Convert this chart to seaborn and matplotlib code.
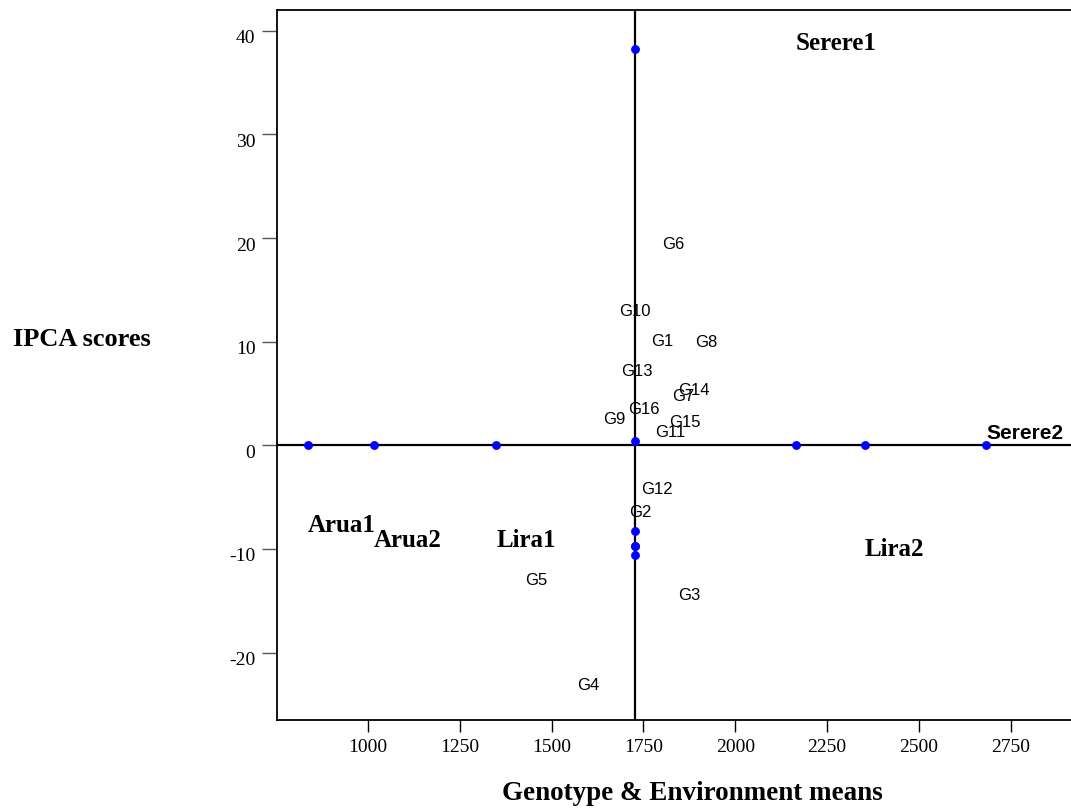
import matplotlib
matplotlib.use("Agg")
import matplotlib.pyplot as plt
import matplotlib.transforms as mtransforms
import seaborn as sns
import pandas as pd

# ---- data ----
grand_mean = 1728
env_names = ["Arua1", "Arua2", "Lira1", "Lira2", "Serere1", "Serere2"]
env_means = [837, 1015, 1349, 2353, 2164, 2684]
env_ipca = [-8.3, -9.7, -9.7, -10.6, 38.2, 0.4]

gen_names = ["G1", "G2", "G3", "G4", "G5", "G6", "G7", "G8", "G9", "G10",
             "G11", "G12", "G13", "G14", "G15", "G16"]
gen_means = [1800, 1741, 1875, 1599, 1457, 1830, 1859, 1920, 1671, 1727,
             1823, 1786, 1732, 1888, 1864, 1750]
gen_ipca = [10.0, -6.5, -14.5, -23.2, -13.0, 19.4, 4.7, 9.9, 2.5, 12.9,
            1.2, -4.25, 7.15, 5.3, 2.2, 3.5]

xticks = [1000, 1250, 1500, 1750, 2000, 2250, 2500, 2750]
yticks = [-20, -10, 0, 10, 20, 30, 40]

sns.set_theme(style="white")
plt.rcParams['font.family'] = ['Liberation Serif', 'DejaVu Serif']
plt.rcParams['text.color'] = 'black'
plt.rcParams['xtick.color'] = 'black'
plt.rcParams['ytick.color'] = 'black'

fig = plt.figure(figsize=(10.71, 8.09), dpi=100)
ax = fig.add_axes([277/1071, 89/809, (1071-277)/1071 + 0.002, (720-10)/809])

ax.set_xlim(752, 2920)
ax.set_ylim(-26.5, 42.0)

# reference lines
ax.axhline(0, color="black", lw=1.6, zorder=1)
ax.axvline(grand_mean, color="black", lw=1.6, zorder=1)

# points: env means on the horizontal line, env IPCA on the vertical line
pts = pd.DataFrame({
    "x": env_means + [grand_mean] * len(env_ipca),
    "y": [0] * len(env_means) + env_ipca,
})
sns.scatterplot(data=pts, x="x", y="y", ax=ax, color="#0000ff", s=34,
                edgecolor="#0000ff", linewidth=0.5, zorder=3, legend=False)

# environment labels
for n, mx, iy in zip(env_names, env_means, env_ipca):
    if n == "Serere2":
        ax.text(mx, iy + 0.75, n, ha="left", va="center", fontsize=15,
                fontweight="bold", family=["Liberation Sans", "DejaVu Sans"], zorder=4)
    else:
        ax.text(mx, iy + 0.55, n, ha="left", va="center", fontsize=18,
                fontweight="bold", zorder=4)

# genotype labels
for n, mx, iy in zip(gen_names, gen_means, gen_ipca):
    ax.text(mx, iy, n, ha="center", va="center", fontsize=12,
            family=["Liberation Sans", "DejaVu Sans"], zorder=4)

ax.set_xticks(xticks)
ax.set_yticks(yticks)
ax.set_xticklabels([str(t) for t in xticks], fontsize=14)
ax.set_yticklabels([str(t) for t in yticks], fontsize=14)
ax.tick_params(axis="x", direction="out", length=8.6, width=1, color="black", pad=5, bottom=True)
ax.tick_params(axis="y", direction="out", length=10.5, width=1, color="#555555", pad=5, left=True)
offset = mtransforms.ScaledTranslation(0, -6/100, fig.dpi_scale_trans)
for lab in ax.get_yticklabels():
    lab.set_transform(lab.get_transform() + offset)

for side in ["left", "bottom", "top"]:
    ax.spines[side].set_color("black")
    ax.spines[side].set_linewidth(1.3)
ax.spines["right"].set_visible(False)

ax.set_xlabel("")
ax.set_ylabel("")

fig.text(82/1071, 1 - 339/809, "IPCA scores", ha="center", va="center",
         fontsize=19, fontweight="bold")
fig.text(692/1071, 1 - 793/809, "Genotype & Environment means", ha="center",
         va="center", fontsize=19.5, fontweight="bold")

fig.savefig("out.png", dpi=100)
